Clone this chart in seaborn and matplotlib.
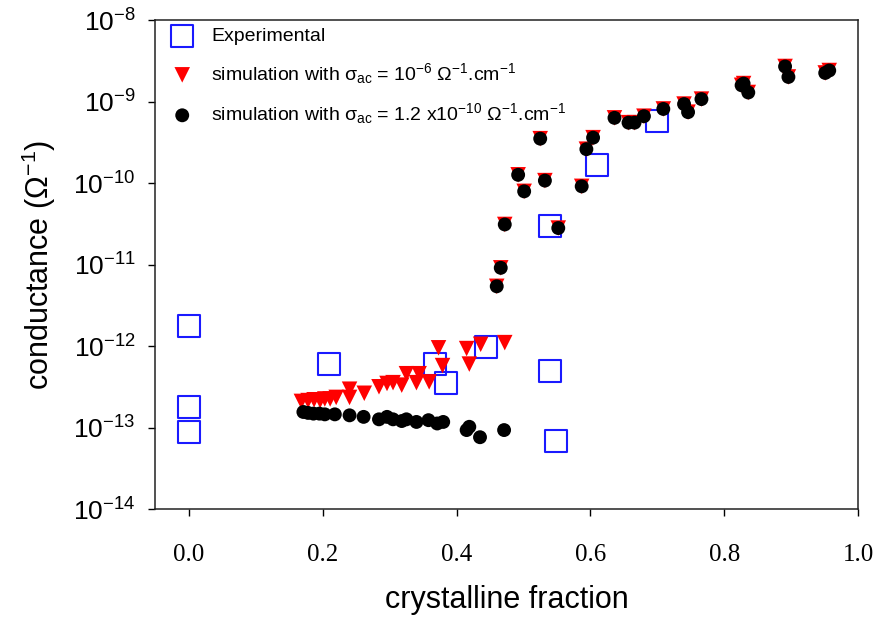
import numpy as np
import pandas as pd
import matplotlib
matplotlib.use('Agg')
import matplotlib.pyplot as plt
import seaborn as sns

# Experimental points
exp_x = [0.000, 0.000, 0.000, 0.209, 0.368, 0.384, 0.444, 0.540, 0.548, 0.540, 0.610, 0.700]
exp_y = [1.74e-12, 1.78e-13, 8.7e-14, 6.0e-13, 6.0e-13, 3.55e-13, 9.8e-13, 4.9e-13, 6.9e-14,
         2.95e-11, 1.66e-10, 5.75e-10]

# High-conductance branch (both simulations coincide)
high_x = [0.460, 0.466, 0.472, 0.492, 0.501, 0.525, 0.532, 0.552, 0.587, 0.594, 0.604, 0.636, 0.657,
          0.666, 0.680, 0.709, 0.740, 0.746, 0.766, 0.826, 0.829, 0.836, 0.891, 0.896, 0.951, 0.957]
high_y = [5.4e-12, 9.1e-12, 3.1e-11, 1.26e-10, 7.9e-11, 3.5e-10, 1.07e-10, 2.8e-11, 9.1e-11, 2.6e-10,
          3.6e-10, 6.3e-10, 5.5e-10, 5.5e-10, 6.6e-10, 8.1e-10, 9.3e-10, 7.4e-10, 1.07e-9, 1.58e-9,
          1.66e-9, 1.29e-9, 2.69e-9, 2.0e-9, 2.24e-9, 2.4e-9]

# Low branch, sigma_ac = 1e-6
red_low_x = [0.168, 0.178, 0.187, 0.196, 0.203, 0.211, 0.220, 0.240, 0.240, 0.262, 0.284, 0.296,
             0.305, 0.318, 0.325, 0.340, 0.344, 0.359, 0.373, 0.379, 0.415, 0.419, 0.436, 0.472]
red_low_y = [2.09e-13, 2.14e-13, 2.19e-13, 2.14e-13, 2.24e-13, 2.24e-13, 2.34e-13, 2.95e-13, 2.34e-13,
             2.63e-13, 3.16e-13, 3.47e-13, 3.55e-13, 3.31e-13, 4.57e-13, 3.55e-13, 4.57e-13, 3.63e-13,
             9.5e-13, 5.75e-13, 9.3e-13, 6.0e-13, 1.05e-12, 1.10e-12]

# Low branch, sigma_ac = 1.2e-10
black_low_x = [0.171, 0.178, 0.186, 0.195, 0.203, 0.218, 0.240, 0.261, 0.284, 0.296, 0.305, 0.318,
               0.325, 0.340, 0.358, 0.371, 0.380, 0.415, 0.419, 0.435, 0.471]
black_low_y = [1.55e-13, 1.51e-13, 1.48e-13, 1.48e-13, 1.45e-13, 1.45e-13, 1.41e-13, 1.35e-13,
               1.26e-13, 1.35e-13, 1.26e-13, 1.20e-13, 1.26e-13, 1.17e-13, 1.23e-13, 1.12e-13,
               1.17e-13, 9.3e-14, 1.02e-13, 7.6e-14, 9.3e-14]

sns.set_style('ticks')
plt.rcParams['font.family'] = ['Liberation Sans', 'DejaVu Sans']
plt.rcParams['mathtext.fontset'] = 'custom'
plt.rcParams['mathtext.rm'] = 'Liberation Sans'
plt.rcParams['mathtext.it'] = 'Liberation Sans:italic'
plt.rcParams['mathtext.bf'] = 'Liberation Sans:bold'
plt.rcParams['text.color'] = 'black'
plt.rcParams['axes.labelcolor'] = 'black'
plt.rcParams['xtick.color'] = 'black'
plt.rcParams['ytick.color'] = 'black'

fig = plt.figure(figsize=(8.82, 6.19), dpi=100)
ax = fig.add_axes([155 / 882, 1 - 509 / 619, (858 - 155) / 882, (509 - 20) / 619])

red_df = pd.DataFrame({'x': red_low_x + high_x, 'y': red_low_y + high_y})
black_df = pd.DataFrame({'x': black_low_x + high_x, 'y': black_low_y + high_y})

sns.scatterplot(x=exp_x, y=exp_y, ax=ax, marker='s', s=250, facecolor='none',
                edgecolor='#1a1aff', linewidth=1.5, label='Experimental', zorder=2)
sns.scatterplot(data=red_df, x='x', y='y', ax=ax, marker='v', s=125, color='#ff0000',
                edgecolor='none', label=r'simulation with σ$_{\mathrm{ac}}$ = 10$^{-6}$ Ω$^{-1}$.cm$^{-1}$',
                zorder=3)
sns.scatterplot(data=black_df, x='x', y='y', ax=ax, marker='o', s=100, color='black',
                edgecolor='none',
                label=r'simulation with σ$_{\mathrm{ac}}$ = 1.2 x10$^{-10}$ Ω$^{-1}$.cm$^{-1}$',
                zorder=4)

ax.set_yscale('log')
ax.set_ylim(1e-14, 1e-8)
ax.set_xlim(-0.0508, 1.0)
ax.set_xticks(np.arange(0, 1.01, 0.2))
ax.set_xticklabels([f'{v:.1f}' for v in np.arange(0, 1.01, 0.2)], fontfamily='Liberation Serif')
ax.set_yticks([1e-14, 1e-13, 1e-12, 1e-11, 1e-10, 1e-9, 1e-8])
ax.yaxis.set_minor_locator(matplotlib.ticker.NullLocator())
ax.tick_params(axis='x', labelsize=18, direction='out', length=5, width=1, pad=20)
ax.tick_params(axis='y', labelsize=19, direction='out', length=5, width=1, pad=9)

for side in ['top', 'right', 'bottom', 'left']:
    ax.spines[side].set_visible(True)
    ax.spines[side].set_linewidth(1.1)
    ax.spines[side].set_color('#222222')

ax.set_xlabel('crystalline fraction', fontsize=22, labelpad=14)
ax.set_ylabel('conductance (Ω$^{-1}$)', fontsize=22, labelpad=11)

ax.legend(loc='upper left', frameon=False, fontsize=14, handletextpad=0.5,
          labelspacing=0.8, borderaxespad=0.2, borderpad=0.2)

fig.savefig('out.png', dpi=100)
